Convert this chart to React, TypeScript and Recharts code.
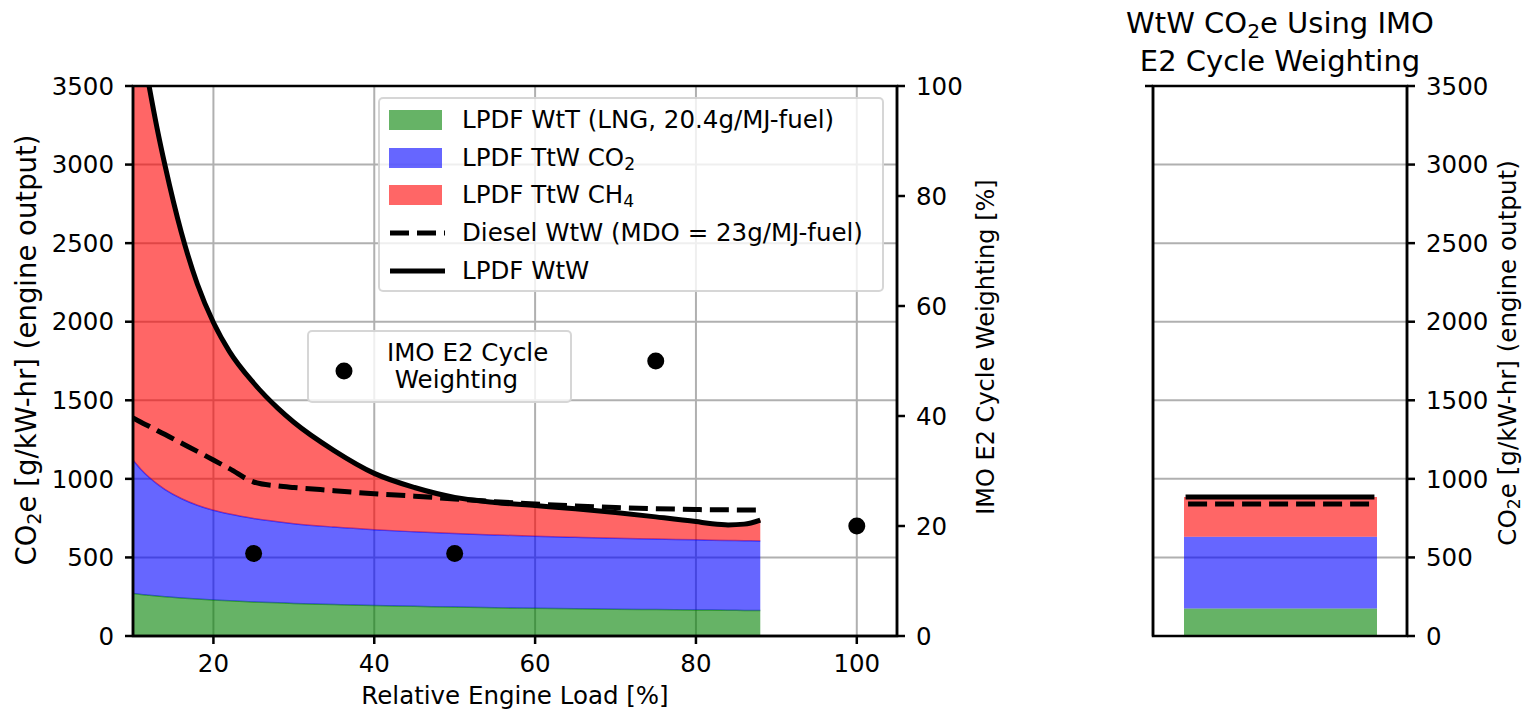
import React from 'react';
import {
  Area,
  Bar,
  CartesianGrid,
  ComposedChart,
  Line,
  LineChart,
  Scatter,
  XAxis,
  YAxis,
} from 'recharts';

// relative engine load [%] and LPDF emission components [g/kW-hr]
const loads = [10, 11, 12, 13, 14, 16, 18, 20, 22, 25, 28, 30, 35, 40, 45, 50, 55, 60, 65, 70, 75, 80, 82, 84, 86, 88];
const wttVals = [270, 264, 259, 254, 250, 242, 235, 229, 224, 217, 211, 207, 200, 194, 189, 184, 180, 177, 174, 171, 168, 166, 165, 164, 163, 162];
const ttwCo2Vals = [850, 796, 751, 714, 682, 633, 597, 571, 552, 531, 516, 508, 493, 482, 474, 468, 463, 458, 454, 451, 449, 446, 445, 444, 443, 443];
const ttwCh4Vals = [3010, 2730, 2490, 2262, 2058, 1695, 1408, 1195, 1034, 862, 723, 645, 487, 359, 282, 230, 207, 195, 182, 164, 141, 116, 104, 99, 106, 133];
const dieselVals = [1388, 1360, 1335, 1308, 1282, 1228, 1175, 1120, 1065, 980, 955, 945, 925, 905, 890, 872, 855, 840, 828, 818, 810, 805, 803, 803, 802, 802];

// IMO E2 cycle weighting [%]
const imoLoads = [25, 50, 75, 100];
const imoWeights = [15, 15, 50, 20];

// cycle-weighted totals [g/kW-hr]
const cycleWtt = 175;
const cycleCo2 = 456;
const cycleCh4 = 253;
const cycleDiesel = 840;
const cycleSpan = [-0.38, 0.38];

const loadTicks = [20, 40, 60, 80, 100];
const co2Ticks = [0, 500, 1000, 1500, 2000, 2500, 3000, 3500];
const weightTicks = [0, 20, 40, 60, 80, 100];

const FONT = '"DejaVu Sans", sans-serif';
const FS = 24.5;
const GREEN = '#008000';
const BLUE = '#0000ff';
const RED = '#ff0000';

const loadData = loads.map((load, i) => ({
  load,
  wtt: wttVals[i],
  co2: ttwCo2Vals[i],
  ch4: ttwCh4Vals[i],
  wtw: wttVals[i] + ttwCo2Vals[i] + ttwCh4Vals[i],
  diesel: dieselVals[i],
}));
const imoData = imoLoads.map((load, i) => ({ load, w: imoWeights[i] }));
const cycleBar = [{ name: 'E2', wtt: cycleWtt, co2: cycleCo2, ch4: cycleCh4 }];
const cycleLines = cycleSpan.map((x) => ({ x, wtw: cycleWtt + cycleCo2 + cycleCh4, diesel: cycleDiesel }));

const tickStyle = { fontSize: FS, fill: '#000', fontFamily: FONT };
const axisLine = { stroke: '#000', strokeWidth: 2.5 };
const tickLine = { stroke: '#000', strokeWidth: 2.5 };

const Dot = (props: any) => <circle cx={props.cx} cy={props.cy} r={8.5} fill="#000" />;

function VLabel({ x, y, size, children }: { x: number; y: number; size: number; children: React.ReactNode }) {
  return (
    <div
      style={{
        position: 'absolute',
        left: x,
        top: y,
        transform: 'translate(-50%, -50%) rotate(-90deg)',
        whiteSpace: 'nowrap',
        fontSize: size,
        lineHeight: 1,
      }}
    >
      {children}
    </div>
  );
}

const sub = { fontSize: '70%', verticalAlign: '-0.25em', lineHeight: 0 };

const legendRows = [
  { kind: 'patch', color: GREEN, label: <>LPDF WtT (LNG, 20.4g/MJ-fuel)</> },
  { kind: 'patch', color: BLUE, label: <>LPDF TtW CO<span style={sub}>2</span></> },
  { kind: 'patch', color: RED, label: <>LPDF TtW CH<span style={sub}>4</span></> },
  { kind: 'dash', color: '#000', label: <>Diesel WtW (MDO = 23g/MJ-fuel)</> },
  { kind: 'line', color: '#000', label: <>LPDF WtW</> },
];

export default function App() {
  return (
    <div style={{ position: 'relative', width: 1530, height: 714, background: '#fff', fontFamily: FONT, color: '#000' }}>
      <style>{'body{margin:0}'}</style>

      <div style={{ position: 'absolute', left: 0, top: 0 }}>
        <ComposedChart width={1010} height={714} data={loadData} margin={{ top: 86, right: 33, bottom: 38, left: 0 }}>
          <CartesianGrid stroke="#b0b0b0" strokeWidth={2} yAxisId="left" />
          <XAxis
            dataKey="load"
            type="number"
            domain={[10, 105]}
            ticks={loadTicks}
            allowDataOverflow
            height={40}
            tickSize={8}
            tickMargin={11}
            tick={tickStyle}
            axisLine={axisLine}
            tickLine={tickLine}
          />
          <YAxis
            yAxisId="left"
            domain={[0, 3500]}
            ticks={co2Ticks}
            allowDataOverflow
            width={133}
            tickSize={8}
            tickMargin={11}
            tick={tickStyle}
            axisLine={axisLine}
            tickLine={tickLine}
          />
          <YAxis
            yAxisId="right"
            orientation="right"
            domain={[0, 100]}
            ticks={weightTicks}
            width={80}
            tickSize={8}
            tickMargin={11}
            tick={{ ...tickStyle, textAnchor: 'start' }}
            axisLine={axisLine}
            tickLine={tickLine}
          />
          <Area yAxisId="left" type="monotone" stackId="lpdf" dataKey="wtt" fill={GREEN} fillOpacity={0.6} stroke={GREEN} strokeOpacity={0.6} strokeWidth={1.5} isAnimationActive={false} />
          <Area yAxisId="left" type="monotone" stackId="lpdf" dataKey="co2" fill={BLUE} fillOpacity={0.6} stroke={BLUE} strokeOpacity={0.6} strokeWidth={1.5} isAnimationActive={false} />
          <Area yAxisId="left" type="monotone" stackId="lpdf" dataKey="ch4" fill={RED} fillOpacity={0.6} stroke={RED} strokeOpacity={0.6} strokeWidth={1.5} isAnimationActive={false} />
          <Line yAxisId="left" type="monotone" dataKey="diesel" stroke="#000" strokeWidth={5} strokeDasharray="19 8" dot={false} isAnimationActive={false} />
          <Line yAxisId="left" type="monotone" dataKey="wtw" stroke="#000" strokeWidth={5} dot={false} isAnimationActive={false} />
          <Scatter yAxisId="right" data={imoData} dataKey="w" shape={Dot} isAnimationActive={false} />
        </ComposedChart>
      </div>

      {/* cycle-weighted bar */}
      <div style={{ position: 'absolute', left: 1100, top: 0 }}>
        <ComposedChart width={430} height={714} data={cycleBar} margin={{ top: 86, right: 43, bottom: 78, left: 33 }}>
          <CartesianGrid vertical={false} stroke="#b0b0b0" strokeWidth={2} yAxisId="r" />
          <XAxis dataKey="name" type="category" hide />
          <YAxis
            yAxisId="l"
            domain={[0, 3500]}
            ticks={co2Ticks}
            width={20}
            tickSize={8}
            tick={false}
            axisLine={axisLine}
            tickLine={tickLine}
          />
          <YAxis
            yAxisId="r"
            orientation="right"
            domain={[0, 3500]}
            ticks={co2Ticks}
            width={80}
            tickSize={8}
            tickMargin={11}
            tick={{ ...tickStyle, textAnchor: 'start' }}
            axisLine={axisLine}
            tickLine={tickLine}
          />
          <Bar yAxisId="r" stackId="c" dataKey="wtt" fill={GREEN} fillOpacity={0.6} barSize={193} isAnimationActive={false} />
          <Bar yAxisId="r" stackId="c" dataKey="co2" fill={BLUE} fillOpacity={0.6} barSize={193} isAnimationActive={false} />
          <Bar yAxisId="r" stackId="c" dataKey="ch4" fill={RED} fillOpacity={0.6} barSize={193} isAnimationActive={false} />
        </ComposedChart>
      </div>

      {/* cycle-weighted WtW lines, same plot box */}
      <div style={{ position: 'absolute', left: 1100, top: 0 }}>
        <LineChart width={430} height={714} data={cycleLines} margin={{ top: 86, right: 123, bottom: 78, left: 53 }}>
          <XAxis dataKey="x" type="number" domain={[-0.525, 0.525]} hide />
          <YAxis domain={[0, 3500]} hide />
          <Line dataKey="diesel" stroke="#000" strokeWidth={5} strokeDasharray="19 8" dot={false} isAnimationActive={false} />
          <Line dataKey="wtw" stroke="#000" strokeWidth={5} strokeLinecap="square" dot={false} isAnimationActive={false} />
        </LineChart>
      </div>

      {/* axes frames */}
      <svg width={1530} height={714} style={{ position: 'absolute', left: 0, top: 0, pointerEvents: 'none' }}>
        <rect x={133} y={86} width={764} height={550} fill="none" stroke="#000" strokeWidth={2.5} />
        <rect x={1153} y={86} width={254} height={550} fill="none" stroke="#000" strokeWidth={2.5} />
        <line x1={1145} y1={86} x2={1153} y2={86} stroke="#000" strokeWidth={2.5} />
      </svg>

      {/* main legend */}
      <div
        style={{
          position: 'absolute',
          left: 378,
          top: 97,
          width: 506,
          height: 195,
          boxSizing: 'border-box',
          border: '2px solid rgba(204,204,204,0.8)',
          borderRadius: 5,
          background: 'rgba(255,255,255,0.8)',
          fontSize: FS,
        }}
      >
        {legendRows.map((row, i) => {
          const cy = 21 + i * 37.7;
          return (
            <div key={i}>
              {row.kind === 'patch' ? (
                <div style={{ position: 'absolute', left: 9, top: cy - 10, width: 53, height: 20, background: row.color, opacity: 0.6 }} />
              ) : (
                <svg width={60} height={10} style={{ position: 'absolute', left: 8, top: cy - 5 }}>
                  <line x1={2} y1={5} x2={57} y2={5} stroke="#000" strokeWidth={5} strokeDasharray={row.kind === 'dash' ? '19 8' : undefined} />
                </svg>
              )}
              <div style={{ position: 'absolute', left: 82, top: cy - 15, lineHeight: '30px', whiteSpace: 'nowrap' }}>{row.label}</div>
            </div>
          );
        })}
      </div>

      {/* weighting legend */}
      <div
        style={{
          position: 'absolute',
          left: 307,
          top: 330,
          width: 265,
          height: 73,
          boxSizing: 'border-box',
          border: '2px solid rgba(204,204,204,0.8)',
          borderRadius: 5,
          background: 'rgba(255,255,255,0.8)',
          fontSize: FS,
        }}
      >
        <svg width={30} height={30} style={{ position: 'absolute', left: 20, top: 24 }}>
          <circle cx={15} cy={15} r={8.5} fill="#000" />
        </svg>
        <div style={{ position: 'absolute', left: 78, top: 7, lineHeight: '27px', whiteSpace: 'pre' }}>{'IMO E2 Cycle\n Weighting'}</div>
      </div>

      {/* axis labels */}
      <VLabel x={27} y={350} size={27.5}>
        CO<span style={sub}>2</span>e [g/kW-hr] (engine output)
      </VLabel>
      <VLabel x={986} y={347} size={24}>
        IMO E2 Cycle Weighting [%]
      </VLabel>
      <VLabel x={1508} y={353} size={24.6}>
        CO<span style={sub}>2</span>e [g/kW-hr] (engine output)
      </VLabel>
      <div style={{ position: 'absolute', left: 515, top: 695, transform: 'translate(-50%, -50%)', fontSize: FS, whiteSpace: 'nowrap' }}>
        Relative Engine Load [%]
      </div>

      {/* right panel title */}
      <div
        style={{
          position: 'absolute',
          left: 1280,
          top: 4,
          transform: 'translateX(-50%)',
          fontSize: 29,
          lineHeight: '38px',
          textAlign: 'center',
          whiteSpace: 'nowrap',
        }}
      >
        WtW CO<span style={sub}>2</span>e Using IMO
        <br />
        E2 Cycle Weighting
      </div>
    </div>
  );
}
